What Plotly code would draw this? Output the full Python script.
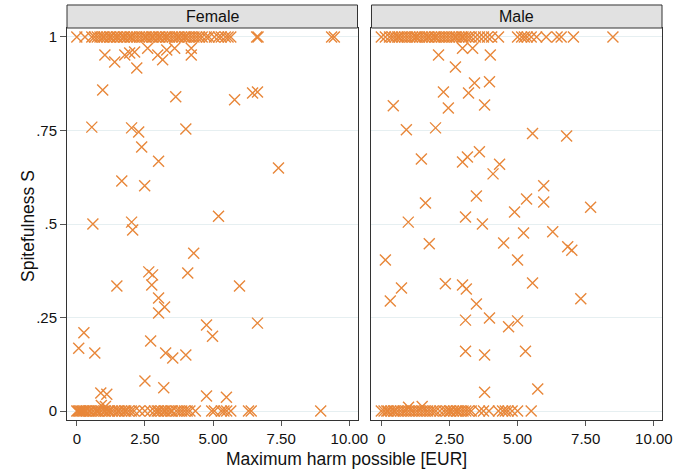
import plotly.graph_objects as go
from plotly.subplots import make_subplots

# ---------------- data ----------------
panel_titles = ["Female", "Male"]
x_tickvals = [0, 2.5, 5, 7.5, 10]
x_ticktext = ["0", "2.50", "5.00", "7.50", "10.00"]
y_tickvals = [0, 0.25, 0.5, 0.75, 1]
y_ticktext = ["0", ".25", ".5", ".75", "1"]

female_top_x = [0.0, 0.3, 0.55, 0.65, 0.75, 0.85, 0.95, 1.0, 1.1, 1.2, 1.25, 1.35, 1.45, 1.5, 1.6,
                1.7, 1.75, 1.85, 1.95, 2.0, 2.1, 2.2, 2.3, 2.4, 2.5, 2.55, 2.65, 2.75, 2.8, 2.9,
                3.0, 3.05, 3.15, 3.25, 3.3, 3.4, 3.5, 3.6, 3.7, 3.75, 3.85, 3.95, 4.0, 4.1, 4.2,
                4.3, 4.4, 4.5, 4.6, 4.75, 4.85, 5.05, 5.2, 5.3, 5.45, 5.55, 5.65, 6.6, 6.65,
                9.35, 9.45]
female_zero_x = [0.0, 0.05, 0.1, 0.15, 0.2, 0.25, 0.3, 0.35, 0.45, 0.5, 0.6, 0.7, 0.75, 0.8, 0.9,
                 1.0, 1.05, 1.15, 1.2, 1.3, 1.4, 1.5, 1.55, 1.65, 1.75, 1.8, 1.9, 2.0, 2.1, 2.3,
                 2.5, 2.7, 2.85, 2.95, 3.0, 3.1, 3.2, 3.25, 3.35, 3.45, 3.5, 3.65, 3.75, 3.85,
                 3.95, 4.05, 4.15, 4.35, 4.95, 5.05, 5.3, 5.4, 5.5, 5.65, 6.3, 6.4, 8.95]
female_mid_x = [1.03, 1.39, 1.76, 1.94, 2.12, 2.2, 2.6, 2.97, 3.15, 3.3, 3.59, 4.2, 4.2,
                0.95, 3.63, 5.79, 6.45, 6.63,
                0.55, 2.01, 2.27, 4.0, 2.38, 3.0, 7.4, 1.65, 2.49,
                0.59, 2.01, 2.05, 5.2, 4.29,
                2.64, 2.78, 4.07, 1.47, 2.75, 5.97, 3.0, 3.22, 3.0, 4.76, 6.63, 4.98, 0.26,
                0.07, 0.66, 2.71, 3.26, 3.52, 4.0, 2.5,
                3.19, 0.88, 1.1, 4.76, 5.49, 0.9, 1.05]
female_mid_y = [0.952, 0.933, 0.952, 0.957, 0.96, 0.917, 0.97, 0.952, 0.939, 0.965, 0.97, 0.952, 0.97,
                0.858, 0.84, 0.832, 0.85, 0.853,
                0.759, 0.757, 0.746, 0.754, 0.706, 0.668, 0.65, 0.615, 0.602,
                0.5, 0.505, 0.484, 0.521, 0.422,
                0.372, 0.364, 0.369, 0.334, 0.337, 0.334, 0.302, 0.278, 0.262, 0.23, 0.235, 0.2, 0.209,
                0.168, 0.155, 0.187, 0.155, 0.142, 0.15, 0.08,
                0.062, 0.048, 0.045, 0.04, 0.037, 0.015, 0.012]

male_top_x = [0.0, 0.15, 0.3, 0.4, 0.5, 0.6, 0.65, 0.75, 0.85, 0.95, 1.05, 1.15, 1.25, 1.3, 1.4,
              1.5, 1.6, 1.7, 1.75, 1.85, 1.95, 2.0, 2.1, 2.2, 2.3, 2.4, 2.5, 2.6, 2.7, 2.75,
              2.85, 2.95, 3.0, 3.1, 3.2, 3.3, 3.45, 3.6, 3.75, 3.9, 4.05, 4.3, 5.0, 5.15, 5.25,
              5.35, 5.5, 5.7, 6.05, 6.45, 6.6, 7.05, 8.5]
male_zero_x = [0.0, 0.1, 0.2, 0.25, 0.35, 0.45, 0.5, 0.6, 0.7, 0.8, 0.9, 1.0, 1.1, 1.2, 1.3, 1.4,
               1.5, 1.6, 1.7, 1.8, 1.9, 2.0, 2.15, 2.3, 2.4, 2.5, 2.55, 2.65, 2.75, 2.8, 2.9,
               3.0, 3.1, 3.2, 3.3, 3.6, 3.75, 3.95, 4.3, 4.45, 4.55, 4.65, 4.8, 5.0, 5.5]
male_mid_x = [2.1, 2.98, 3.35, 4.0, 2.72, 3.42, 3.97, 2.28, 3.2, 0.44, 2.46, 3.79, 0.92, 1.99,
              5.55, 6.8, 1.47, 2.98, 3.16, 3.6, 4.34, 4.1, 5.96, 3.49, 1.62, 5.33, 5.96, 7.68,
              4.89, 0.99, 3.09, 3.71, 5.22, 6.29, 1.76, 4.49, 6.84, 6.99, 0.15, 5.0, 0.74, 0.33,
              2.35, 2.98, 3.12, 5.55, 3.49, 7.32, 3.09, 3.97, 4.67, 5.0, 3.09, 3.79, 5.29, 3.79,
              5.74, 1.0, 1.5]
male_mid_y = [0.952, 0.97, 0.97, 0.952, 0.92, 0.877, 0.88, 0.853, 0.85, 0.816, 0.81, 0.818, 0.752, 0.757,
              0.742, 0.735, 0.674, 0.666, 0.679, 0.693, 0.66, 0.634, 0.602, 0.575, 0.556, 0.567, 0.559, 0.545,
              0.532, 0.505, 0.519, 0.5, 0.476, 0.479, 0.447, 0.449, 0.439, 0.43, 0.404, 0.404, 0.329, 0.294,
              0.34, 0.337, 0.326, 0.342, 0.286, 0.3, 0.243, 0.249, 0.225, 0.241, 0.16, 0.15, 0.16, 0.05,
              0.059, 0.01, 0.012]

female_x = female_top_x + female_mid_x + female_zero_x
female_y = [1.0] * len(female_top_x) + female_mid_y + [0.0] * len(female_zero_x)
male_x = male_top_x + male_mid_x + male_zero_x
male_y = [1.0] * len(male_top_x) + male_mid_y + [0.0] * len(male_zero_x)

# ---------------- figure ----------------
ORANGE = "#E8873A"
FONT = "Liberation Sans, Arial, Helvetica, sans-serif"

fig = make_subplots(rows=1, cols=2, shared_yaxes=True, horizontal_spacing=0.0235)

marker = dict(symbol="x-thin-open", size=11, color=ORANGE, line=dict(color=ORANGE, width=1.4))
fig.add_trace(go.Scatter(x=female_x, y=female_y, mode="markers", marker=marker,
                         showlegend=False), row=1, col=1)
fig.add_trace(go.Scatter(x=male_x, y=male_y, mode="markers", marker=marker,
                         showlegend=False), row=1, col=2)

fig.update_xaxes(range=[-0.36, 10.3], tickvals=x_tickvals, ticktext=x_ticktext,
                 ticks="outside", ticklen=5, tickcolor="#555", tickwidth=1,
                 showgrid=False, zeroline=False, showline=True, mirror=True,
                 linecolor="#333", linewidth=1,
                 tickfont=dict(family=FONT, size=15, color="#111"))
fig.update_yaxes(range=[-0.024, 1.024], tickvals=y_tickvals, showgrid=True,
                 gridcolor="#E6EFF1", gridwidth=1, zeroline=False, showline=True,
                 mirror=True, linecolor="#333", linewidth=1)
fig.update_yaxes(row=1, col=1, ticktext=y_ticktext, ticks="outside", ticklen=6,
                 tickcolor="#555", tickfont=dict(family=FONT, size=15, color="#111"))
fig.update_yaxes(row=1, col=2, ticks="", showticklabels=False)

# strip headers
for i, title in enumerate(panel_titles):
    xr = "x domain" if i == 0 else "x2 domain"
    fig.add_shape(type="rect", xref=xr, yref="paper", x0=0, x1=1, y0=1.0, y1=1.0587,
                  fillcolor="#E1E1E1", line=dict(color="#333", width=1), layer="above")
    fig.add_annotation(text=title, xref=xr, yref="paper", x=0.5, y=1.0293,
                       showarrow=False, font=dict(family=FONT, size=16, color="#111"),
                       xanchor="center", yanchor="middle")

fig.add_annotation(text="Maximum harm possible [EUR]", xref="paper", yref="paper",
                   x=0.469, y=-0.1, showarrow=False, xanchor="center", yanchor="middle",
                   font=dict(family=FONT, size=17.5, color="#111"))
fig.add_annotation(text="Spitefulness S", xref="paper", yref="paper",
                   x=-0.0655, y=0.495, textangle=-90, showarrow=False,
                   xanchor="center", yanchor="middle",
                   font=dict(family=FONT, size=17.5, color="#111"))

fig.update_layout(width=677, height=475, margin=dict(l=67, r=15, t=28, b=55, autoexpand=False),
                  plot_bgcolor="white", paper_bgcolor="white")

fig.write_html("out.html", config={"displayModeBar": False},
               post_script="document.body.style.margin='0';document.body.style.padding='0';")
